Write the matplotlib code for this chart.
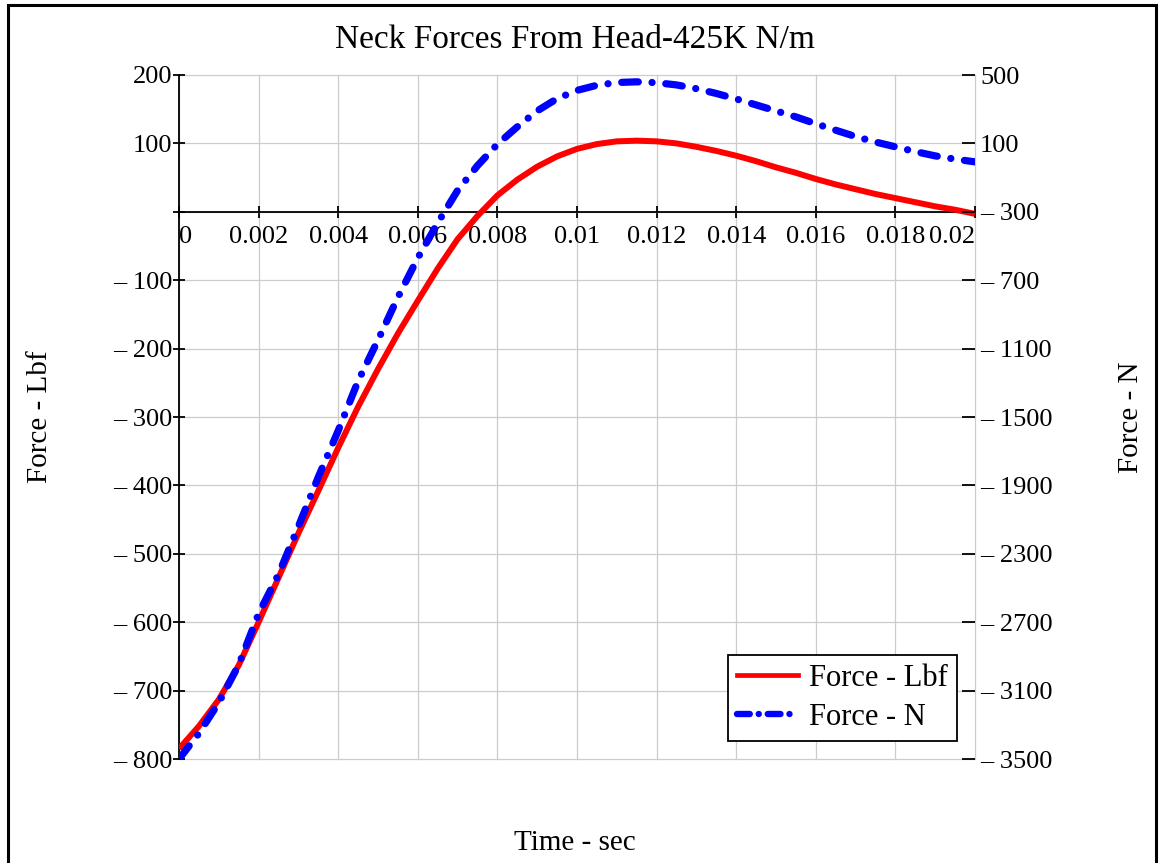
import matplotlib
matplotlib.use("Agg")
import matplotlib.pyplot as plt
import matplotlib.patches as patches
from matplotlib.lines import Line2D

plt.rcParams['font.family'] = ['Liberation Serif', 'DejaVu Serif']

# time (sec), read every 0.0005 s
t = [0.0, 0.0005, 0.001, 0.0015, 0.002, 0.0025, 0.003, 0.0035, 0.004, 0.0045,
     0.005, 0.0055, 0.006, 0.0065, 0.007, 0.0075, 0.008, 0.0085, 0.009, 0.0095,
     0.01, 0.0105, 0.011, 0.0115, 0.012, 0.0125, 0.013, 0.0135, 0.014, 0.0145,
     0.015, 0.0155, 0.016, 0.0165, 0.017, 0.0175, 0.018, 0.0185, 0.019, 0.0195, 0.02]

# force in lbf (left axis)
force_lbf = [-785, -752, -713, -663, -600, -535, -470, -408, -345, -285,
             -230, -178, -130, -83, -40, -6, 24, 47, 66, 81,
             92, 99, 103, 104, 103, 100, 95, 89, 82, 74,
             65, 57, 48, 40, 33, 26, 20, 14, 8, 3, -3]

# force in N (right axis)
force_n = [-3500, -3350, -3170, -2950, -2650, -2420, -2140, -1851, -1580, -1290,
           -1050, -800, -570, -365, -175, -30, 95, 197, 290, 362,
           410, 440, 456, 460, 455, 442, 420, 392, 360, 325,
           290, 255, 215, 177, 140, 108, 80, 52, 27, 8, -8]

xticks = [0, 0.002, 0.004, 0.006, 0.008, 0.01, 0.012, 0.014, 0.016, 0.018, 0.02]
xtick_labels = ['0', '0.002', '0.004', '0.006', '0.008', '0.01', '0.012',
                '0.014', '0.016', '0.018', '0.02']
yticks_lbf = [-800, -700, -600, -500, -400, -300, -200, -100, 0, 100, 200]
yticks_n = [-3500, -3100, -2700, -2300, -1900, -1500, -1100, -700, -300, 100, 500]


def fmt(v):
    # Mathcad style negative numbers: "– 300"
    if v < 0:
        return '\u2013 ' + str(abs(v))
    return str(v)


W, H = 1161, 863
fig = plt.figure(figsize=(W / 100, H / 100), dpi=100)
ax = fig.add_axes([179 / W, 1 - 759 / H, (975 - 179) / W, (759 - 75) / H])

ax.plot(t, force_lbf, color='red', lw=4.3, solid_capstyle='butt',
        solid_joinstyle='round', zorder=3)
ax.set_xlim(0, 0.02)
ax.set_ylim(-800, 200)

# axes frame
for s in ['top', 'right']:
    ax.spines[s].set_visible(False)
ax.spines['bottom'].set_position(('data', 0))
ax.spines['bottom'].set_linewidth(1.3)
ax.spines['left'].set_linewidth(1.3)
ax.spines['bottom'].set_zorder(2.5)

ax.set_xticks(xticks)
ax.set_xticklabels(xtick_labels)
ax.set_yticks(yticks_lbf)
ax.set_yticklabels(['' if v == 0 else fmt(v) for v in yticks_lbf])
ax.tick_params(axis='x', direction='inout', length=9, width=1.3, pad=6, labelsize=19)
ax.tick_params(axis='y', direction='inout', length=9, width=1.3, pad=0.5, labelsize=19)
xl = ax.get_xticklabels()
xl[0].set_ha('left')
xl[-1].set_ha('right')

ax.grid(True, color='#cccccc', lw=0.9, zorder=0)
ax.set_axisbelow(True)
for g in ax.get_xgridlines() + ax.get_ygridlines():
    g.set_clip_on(False)

ax2 = ax.twinx()
ax2.plot(t, force_n, color='blue', lw=5.2, dash_capstyle='round',
         linestyle=(0, (2.3, 1.9, 0.01, 1.9)), zorder=4)
ax2.set_ylim(-3500, 500)
ax2.set_yticks(yticks_n)
ax2.set_yticklabels([fmt(v) for v in yticks_n])
ax2.tick_params(axis='y', direction='in', length=9.5, width=1.3, pad=3.6, labelsize=19)
for s in ax2.spines.values():
    s.set_visible(False)

# legend
h = [Line2D([], [], color='red', lw=3.4),
     Line2D([], [], color='blue', lw=4.6, dash_capstyle='round',
            linestyle=(0, (2.0, 1.4, 0.01, 1.4)))]
leg = ax2.legend(h, ['Force - Lbf', 'Force - N'], loc='lower right',
                 bbox_to_anchor=(957 / W, 1 - 741 / H), bbox_transform=fig.transFigure,
                 borderaxespad=0, fancybox=False, framealpha=1, edgecolor='black',
                 fontsize=22, handlelength=2.0, handletextpad=0.35,
                 borderpad=0.3, labelspacing=0.32)
leg.get_frame().set_linewidth(1.3)

# titles and axis labels
fig.text(575 / W, 1 - 40 / H, 'Neck Forces From Head-425K N/m', ha='center', va='center', fontsize=24)
fig.text(575 / W, 1 - 843 / H, 'Time - sec', ha='center', va='center', fontsize=21)
fig.text(40 / W, 1 - 417 / H, 'Force - Lbf', ha='center', va='center', rotation=90, fontsize=21)
fig.text(1131 / W, 1 - 417 / H, 'Force - N', ha='center', va='center', rotation=90, fontsize=21)

# outer frame
fig.patches.append(patches.Rectangle((8 / W, -0.05), (1156 - 8) / W, 1.05 - 5 / H,
                                     transform=fig.transFigure, fill=False,
                                     edgecolor='black', lw=2.2))

fig.savefig('out.png', dpi=100)
